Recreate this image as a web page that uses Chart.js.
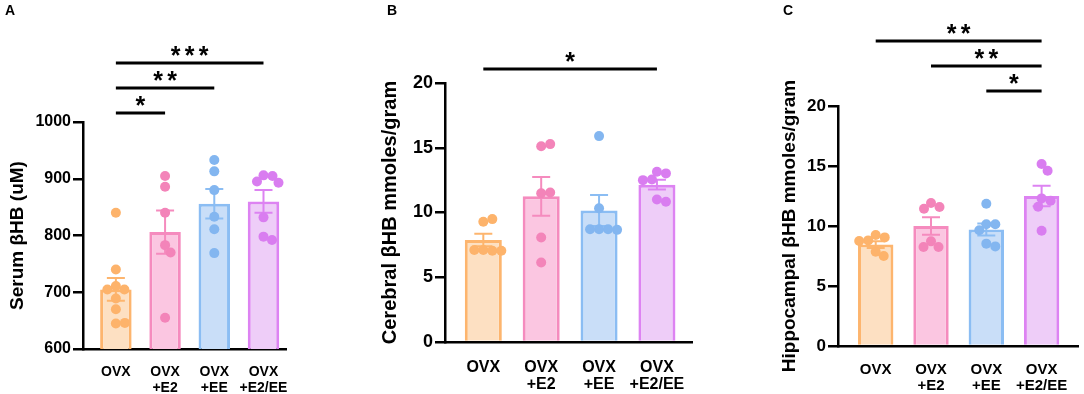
<!DOCTYPE html>
<html lang="en">
<head>
  <meta charset="UTF-8">
  <title>βHB levels after OVX, E2 and EE</title>
  <script src="https://cdn.jsdelivr.net/npm/chart.js"></script>
  <style>
    body {
      margin: 0;
      background: #fff;
      font-family: Arial, "Liberation Sans", sans-serif;
    }
    .wrap {
      position: relative;
      width: 1084px;
      height: 394px;
    }
    canvas {
      position: absolute;
      top: 0;
    }
    .tag {
      position: absolute;
      top: 2px;
      font-weight: bold;
      font-size: 14px;
      line-height: 16px;
    }
  </style>
</head>
<body>
  <div class="wrap">
    <canvas id="chartA" width="304" height="394" style="left:0"></canvas>
    <canvas id="chartB" width="332" height="394" style="left:370px"></canvas>
    <canvas id="chartC" width="314" height="394" style="left:770px"></canvas>
    <div class="tag" style="left:5px">A</div>
    <div class="tag" style="left:387px">B</div>
    <div class="tag" style="left:783px">C</div>
  </div>

  <script>
    const groupLabels = [['OVX'], ['OVX', '+E2'], ['OVX', '+EE'], ['OVX', '+E2/EE']];

    // A - serum βHB (uM), mean / SEM and single animals
    const serumMean = [705, 806, 856, 860];
    const serumSem = [20, 38, 26, 20];
    const serumOVX = [840, 740, 711, 705, 705, 689, 670, 645, 646];
    const serumE2 = [905, 886, 840, 783, 770, 655];
    const serumEE = [933, 913, 880, 833, 811, 769];
    const serumE2EE = [906, 905, 895, 893, 832, 798, 792];
    const serumTicks = [600, 700, 800, 900, 1000];
    const serumSig = [[0, 1, '*'], [0, 2, '**'], [0, 3, '***']];

    // B - cerebral βHB mmoles/gram
    const cerebralMean = [7.87, 11.25, 10.15, 12.15];
    const cerebralSem = [0.48, 1.5, 1.2, 0.38];
    const cerebralOVX = [9.28, 9.49, 7.1, 7.05, 7.1, 7.05];
    const cerebralE2 = [15.12, 15.28, 11.49, 11.54, 8.07, 6.14];
    const cerebralEE = [15.9, 10.33, 8.71, 8.71, 8.71, 8.66];
    const cerebralE2EE = [13.14, 13.02, 12.55, 12.5, 11.01, 10.83];
    const cerebralTicks = [0, 5, 10, 15, 20];
    const cerebralSig = [[0, 3, '*']];

    // C - hippocampal βHB mmoles/gram
    const hippoMean = [8.45, 10.0, 9.7, 12.5];
    const hippoSem = [0.28, 0.72, 0.5, 0.85];
    const hippoOVX = [9.25, 9.05, 8.8, 8.75, 7.85, 7.5];
    const hippoE2 = [11.92, 11.58, 11.44, 8.72, 8.25, 8.25];
    const hippoEE = [11.86, 10.14, 10.14, 9.64, 8.53, 8.3];
    const hippoE2EE = [15.16, 14.6, 12.3, 12.1, 11.6, 9.6];
    const hippoTicks = [0, 5, 10, 15, 20];
    const hippoSig = [[2, 3, '*'], [1, 3, '**'], [0, 3, '**']];

    const groupBorder = ['#FDB56E', '#F58BBE', '#8BBDF3', '#DD83F2'];
    const groupFill = ['#FDE0C2', '#FBC6E1', '#C9DEF8', '#EECDF8'];
    const groupDot = ['#FDB36B', '#F384B9', '#83B6F0', '#D97DF0'];

    Chart.defaults.font.family = 'Arial, "Liberation Sans", sans-serif';
    Chart.defaults.color = '#000';

    const DOT_R = 5;

    function makePanel(id, p) {
      const datasets = [{
        type: 'bar',
        data: p.mean.map((m, i) => ({ x: i, y: m })),
        backgroundColor: groupFill,
        borderColor: groupBorder,
        borderWidth: 3,
        borderSkipped: 'start',
        barPercentage: 0.64,
        categoryPercentage: 1,
        order: 2
      }];
      p.points.forEach((vals, g) => {
        datasets.push({
          type: 'scatter',
          data: vals.map(v => ({ x: g, y: v })),
          backgroundColor: groupDot[g],
          borderWidth: 0,
          pointRadius: DOT_R,
          order: 1
        });
      });

      // mean +/- SEM whiskers, drawn just after the bars
      const errorBars = {
        id: 'errorBars',
        afterDatasetDraw(chart, args) {
          if (args.index !== 0) return;
          const { ctx, scales: { x, y } } = chart;
          ctx.save();
          ctx.lineWidth = 2;
          p.mean.forEach((m, i) => {
            const px = x.getPixelForValue(i);
            const top = y.getPixelForValue(m + p.sem[i]);
            const bot = y.getPixelForValue(m - p.sem[i]);
            ctx.strokeStyle = groupBorder[i];
            ctx.beginPath();
            ctx.moveTo(px, top); ctx.lineTo(px, bot);
            ctx.moveTo(px - 9, top); ctx.lineTo(px + 9, top);
            ctx.moveTo(px - 9, bot); ctx.lineTo(px + 9, bot);
            ctx.stroke();
          });
          ctx.restore();
        }
      };

      // significance brackets above the plot
      const sigBrackets = {
        id: 'sigBrackets',
        afterDraw(chart) {
          const { ctx, chartArea, scales: { x } } = chart;
          ctx.save();
          ctx.strokeStyle = '#000';
          ctx.fillStyle = '#000';
          ctx.font = 'bold 25px Arial, "Liberation Sans", sans-serif';
          ctx.textAlign = 'center';
          ctx.textBaseline = 'alphabetic';
          p.sig.forEach(([a, b, label], k) => {
            const y = chartArea.top - p.sigGap - k * 25;
            const x1 = x.getPixelForValue(a);
            const x2 = x.getPixelForValue(b);
            ctx.lineWidth = 3;
            ctx.beginPath();
            ctx.moveTo(x1, y);
            ctx.lineTo(x2, y);
            ctx.stroke();
            const mid = (x1 + x2) / 2;
            const n = label.length;
            for (let s = 0; s < n; s++) {
              ctx.fillText('*', mid + (s - (n - 1) / 2) * 14, y + 1);
            }
          });
          ctx.restore();
        }
      };

      const chart = new Chart(document.getElementById(id), {
        data: { datasets },
        plugins: [errorBars, sigBrackets],
        options: {
          responsive: false,
          animation: false,
          layout: { padding: { top: p.top, right: p.right, left: 0, bottom: 0 } },
          plugins: { legend: { display: false }, tooltip: { enabled: false } },
          scales: {
            x: {
              type: 'linear',
              offset: false,
              min: p.xMin,
              max: p.xMax,
              afterBuildTicks: s => { s.ticks = groupLabels.map((_, i) => ({ value: i })); },
              afterFit: s => { s.height = p.xHeight; },
              ticks: {
                callback: v => groupLabels[v],
                font: { size: p.catSize, weight: 'bold', lineHeight: 1.08 },
                padding: p.catPad,
                maxRotation: 0,
                autoSkip: false
              },
              grid: { display: false, drawTicks: false, offset: false },
              border: { display: true, color: '#000', width: 2.5 }
            },
            y: {
              min: p.ticks[0],
              max: p.ticks[p.ticks.length - 1],
              afterBuildTicks: s => { s.ticks = p.ticks.map(v => ({ value: v })); },
              afterFit: s => { s.width = p.yWidth; },
              ticks: {
                callback: v => String(v),
                font: { size: p.tickSize, weight: 'bold' },
                padding: 2
              },
              grid: {
                display: true, drawOnChartArea: false, drawTicks: true,
                tickLength: 10, lineWidth: 2.5, color: '#000'
              },
              border: { display: true, color: '#000', width: 2.5 },
              title: {
                display: true,
                text: p.title,
                font: { size: p.titleSize, weight: 'bold' },
                padding: { top: p.titlePad, bottom: p.titlePad }
              }
            }
          }
        }
      });

      // simple beeswarm: spread dots sideways so they do not overlap much
      const { x, y } = chart.scales;
      const unit = x.getPixelForValue(1) - x.getPixelForValue(0);
      chart.data.datasets.slice(1).forEach((ds, g) => {
        const placed = [];
        ds.data.forEach(pt => {
          const py = y.getPixelForValue(pt.y);
          let dx = 0;
          for (let s = 0; s < 400; s++) {
            const tries = s === 0 ? [0] : [s * 0.5, -s * 0.5];
            const ok = tries.find(t => placed.every(q => Math.hypot(q.dx - t, q.py - py) >= DOT_R * 2 - 1));
            if (ok !== undefined) { dx = ok; break; }
          }
          placed.push({ dx, py });
          pt.x = g + dx / unit;
        });
      });
      chart.update('none');
      return chart;
    }

    makePanel('chartA', {
      title: 'Serum βHB (uM)', mean: serumMean, sem: serumSem,
      points: [serumOVX, serumE2, serumEE, serumE2EE], ticks: serumTicks, sig: serumSig,
      top: 122, right: 4, yWidth: 83, xHeight: 45, xMin: -0.668, xMax: 3.473,
      tickSize: 16, catSize: 14, catPad: 16, titleSize: 19, titlePad: 6, sigGap: 9
    });

    makePanel('chartB', {
      title: 'Cerebral βHB mmoles/gram', mean: cerebralMean, sem: cerebralSem,
      points: [cerebralOVX, cerebralE2, cerebralEE, cerebralE2EE], ticks: cerebralTicks, sig: cerebralSig,
      top: 83, right: 2, yWidth: 75, xHeight: 52, xMin: -0.662, xMax: 3.61,
      tickSize: 18, catSize: 16, catPad: 17, titleSize: 20, titlePad: 8, sigGap: 14
    });

    makePanel('chartC', {
      title: 'Hippocampal βHB mmoles/gram', mean: hippoMean, sem: hippoSem,
      points: [hippoOVX, hippoE2, hippoEE, hippoE2EE], ticks: hippoTicks, sig: hippoSig,
      top: 106, right: 4, yWidth: 68, xHeight: 48, xMin: -0.682, xMax: 3.66,
      tickSize: 17, catSize: 15, catPad: 16, titleSize: 19, titlePad: 8.6, sigGap: 15
    });
  </script>
</body>
</html>
